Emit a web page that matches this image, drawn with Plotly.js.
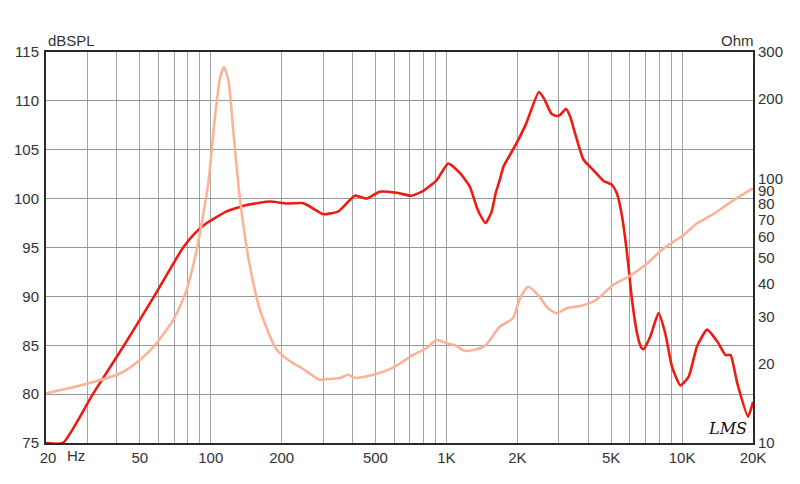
<!DOCTYPE html>
<html>
<head>
<meta charset="utf-8">
<script src="https://cdn.plot.ly/plotly-3.0.1.min.js"></script>
<style>html,body{margin:0;padding:0;background:#fff;}#chart{width:800px;height:484px;}</style>
</head>
<body>
<div id="chart"></div>
<script>
// SPL response (Hz, dB SPL)
var splFreq = [20, 23.6, 31.6, 42.9, 57.5, 76.4, 86, 96.2, 116.8, 142, 178.6, 210, 245, 259, 280, 300, 348, 409, 458, 522, 614, 710, 798, 910, 1018, 1143, 1258, 1342, 1386, 1467, 1553, 1620, 1684, 1749, 1916, 1988, 2182, 2468, 2600, 2788, 2930, 3050, 3216, 3350, 3514, 3816, 4210, 4646, 5046, 5298, 5562, 5843, 6136, 6444, 6700, 6868, 7332, 7948, 8490, 9064, 9836, 10672, 11578, 12776, 14094, 15290, 16062, 17152, 19068, 20000];
var splDb = [75, 75, 80, 85, 90, 95, 96.5, 97.5, 98.7, 99.35, 99.7, 99.5, 99.55, 99.3, 98.8, 98.4, 98.7, 100.3, 100.0, 100.7, 100.6, 100.3, 100.8, 101.9, 103.6, 102.6, 101.2, 99.2, 98.4, 97.5, 98.6, 100.6, 101.9, 103.3, 105.0, 105.7, 107.7, 110.9, 110.2, 108.7, 108.45, 108.6, 109.2, 108.4, 106.7, 104.0, 102.9, 101.8, 101.4, 100.5, 98.2, 94.4, 89.6, 86.2, 84.8, 84.6, 85.9, 88.3, 86.2, 82.8, 80.9, 81.8, 84.9, 86.6, 85.4, 84.0, 84.0, 81.1, 77.7, 79.2];

// Impedance (Hz, Ohm)
var impFreq = [20, 28.8, 41.2, 50, 58.9, 69.4, 74, 79, 87.2, 97.6, 104.3, 109.5, 113.8, 118.8, 124.9, 133.2, 146.8, 161.9, 190.5, 224, 239, 290, 300, 353, 383, 409, 488, 566, 636, 721, 822, 910, 1002, 1088, 1198, 1342, 1467, 1684, 1916, 2038, 2218, 2482, 2654, 2930, 3238, 3692, 4210, 4498, 5086, 5936, 6972, 8346, 10158, 11578, 13616, 16552, 19400, 20000];
var impOhm = [15.4, 16.6, 18.3, 20.6, 23.8, 29.2, 32.8, 37.9, 53.6, 95.7, 171, 239, 263, 235, 148, 82.7, 46.3, 31.8, 22.5, 20.0, 19.4, 17.3, 17.4, 17.6, 18.1, 17.6, 18.1, 18.9, 20.0, 21.5, 22.8, 24.5, 23.8, 23.4, 22.3, 22.6, 23.4, 27.5, 29.6, 34.6, 38.9, 35.7, 32.8, 30.9, 32.3, 32.9, 34.3, 35.7, 39.5, 42.5, 47.0, 54.3, 61.1, 67.6, 73.4, 82.7, 90.2, 91.8];

// Axis ticks
var xGrid = [20,30,40,50,60,70,80,90,100,200,300,400,500,600,700,800,900,1000,2000,3000,4000,5000,6000,7000,8000,9000,10000,20000];
var xLabels = {20:'\u00a020', 50:'50', 100:'100', 200:'200', 500:'500', 1000:'1K', 2000:'2K', 5000:'5K', 10000:'10K', 20000:'20K'};
var yTicks = [75,80,85,90,95,100,105,110,115];
var ohmTicks = [10,20,30,40,50,60,70,80,90,100,200,300];

var xText = xGrid.map(function(v){ return xLabels[v] || ''; });

var font = {family: 'Liberation Sans, Arial, sans-serif', size: 15, color: '#333'};

var traces = [
  {x: impFreq, y: impOhm, yaxis: 'y2', type: 'scatter', mode: 'lines',
   line: {color: '#fbb398', width: 2.6, shape: 'spline', smoothing: 0.6}, hoverinfo: 'skip'},
  {x: splFreq, y: splDb, type: 'scatter', mode: 'lines',
   line: {color: '#ec1c12', width: 2.6, shape: 'spline', smoothing: 0.5}, hoverinfo: 'skip'}
];

var layout = {
  width: 800, height: 484,
  margin: {l: 46, r: 47, t: 52, b: 41, pad: 0},
  paper_bgcolor: '#fff', plot_bgcolor: '#fff',
  showlegend: false,
  font: font,
  xaxis: {
    type: 'log', range: [Math.log10(20), Math.log10(20000)],
    tickmode: 'array', tickvals: xGrid, ticktext: xText,
    showgrid: true, gridcolor: '#a3a3a3', gridwidth: 1,
    showline: true, linecolor: '#2a2a2a', linewidth: 2, mirror: true,
    ticks: '', zeroline: false, tickfont: font, fixedrange: true
  },
  yaxis: {
    range: [75, 115], tickmode: 'array', tickvals: yTicks,
    showgrid: true, gridcolor: '#979797', gridwidth: 1,
    showline: true, linecolor: '#2a2a2a', linewidth: 2, mirror: true,
    ticks: '', zeroline: false, tickfont: font, ticklabelstandoff: 2, fixedrange: true
  },
  yaxis2: {
    type: 'log', range: [1, Math.log10(300)], overlaying: 'y', side: 'right',
    tickmode: 'array', tickvals: ohmTicks, ticktext: ohmTicks.map(String),
    showgrid: false, showline: false, ticks: '', zeroline: false,
    tickfont: font, ticklabelstandoff: 4, fixedrange: true
  },
  annotations: [
    {xref: 'paper', yref: 'paper', x: 0, y: 1, yshift: 12, xanchor: 'left', yanchor: 'middle',
     text: 'dBSPL', showarrow: false, font: font},
    {xref: 'paper', yref: 'paper', x: 1, y: 1, xshift: 3, yshift: 12, xanchor: 'right', yanchor: 'middle',
     text: 'Ohm', showarrow: false, font: font},
    {xref: 'paper', yref: 'paper', x: 0, y: 0, xshift: 30, yshift: -12, xanchor: 'center', yanchor: 'middle',
     text: 'Hz', showarrow: false, font: font},
    {xref: 'paper', yref: 'paper', x: 1, y: 0, xshift: -26, yshift: 15, xanchor: 'center', yanchor: 'middle',
     text: '<i>LMS</i>', showarrow: false, font: {family: 'DejaVu Serif, serif', size: 16, color: '#111'}}
  ]
};

Plotly.newPlot('chart', traces, layout, {staticPlot: true, displayModeBar: false});
</script>
</body>
</html>
